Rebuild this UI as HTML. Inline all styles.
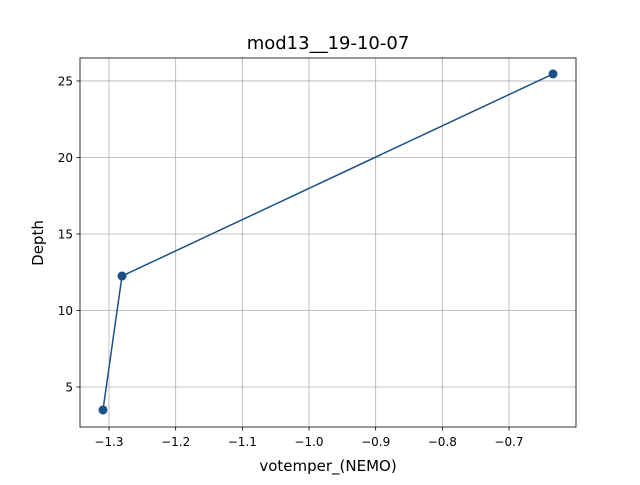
<!DOCTYPE html>
<html><head><meta charset="utf-8"><style>
html,body{margin:0;padding:0;background:#fff}
svg text{font-family:"DejaVu Sans","Liberation Sans",sans-serif;fill:#000}
</style></head><body>
<svg id="chart" width="640" height="480" xmlns="http://www.w3.org/2000/svg">
<rect width="640" height="480" fill="#fff"/>
<text x="328" y="49" font-size="18" text-anchor="middle">mod13__19-10-07</text>
<text x="328" y="471" font-size="15" text-anchor="middle">votemper_(NEMO)</text>
<text transform="translate(43,243) rotate(-90)" font-size="15" text-anchor="middle">Depth</text>
<g id="grid"></g><g id="ticks"></g><g id="series"></g>
<rect x="80" y="58" width="496" height="369" fill="none" stroke="#000" stroke-width="0.8"/>
</svg>
<script>
const xTicks=[-1.3,-1.2,-1.1,-1.0,-0.9,-0.8,-0.7];
const xTickLabels=["−1.3","−1.2","−1.1","−1.0","−0.9","−0.8","−0.7"];
const yTicks=[5,10,15,20,25];
const yTickLabels=["5","10","15","20","25"];
const tempValues=[-1.309,-1.2805,-0.634];
const depthValues=[3.5,12.25,25.46];

const L=80,R=576,T=58,B=427;
const xMin=-1.3435,xMax=-0.5995,yMin=2.386,yMax=26.5;
const sx=v=>L+(v-xMin)/(xMax-xMin)*(R-L);
const sy=v=>B-(v-yMin)/(yMax-yMin)*(B-T);
const NS="http://www.w3.org/2000/svg";
function mk(tag,attrs,parent){const e=document.createElementNS(NS,tag);for(const k in attrs)e.setAttribute(k,attrs[k]);parent.appendChild(e);return e;}
const grid=document.getElementById('grid'),ticks=document.getElementById('ticks'),series=document.getElementById('series');
xTicks.forEach((v,i)=>{const x=sx(v);
 let g=mk('line',{x1:x,x2:x,y1:T,y2:B,stroke:'#b0b0b0','stroke-width':0.8},grid);
 
 
 let t=mk('line',{x1:x,x2:x,y1:B,y2:B+3.5,stroke:'#000','stroke-width':0.8},ticks);
 
 
 let l=mk('text',{x:x,y:B+19,'font-size':12,'text-anchor':'middle'},ticks);l.textContent=xTickLabels[i];
 
 
});
yTicks.forEach((v,i)=>{const y=sy(v);
 let g=mk('line',{x1:L,x2:R,y1:y,y2:y,stroke:'#b0b0b0','stroke-width':0.8},grid);
 
 
 let t=mk('line',{x1:L-3.5,x2:L,y1:y,y2:y,stroke:'#000','stroke-width':0.8},ticks);
 
 
 let l=mk('text',{x:L-7,y:y+4.5,'font-size':12,'text-anchor':'end'},ticks);l.textContent=yTickLabels[i];
 
 
});
const pts=tempValues.map((v,i)=>sx(v)+','+sy(depthValues[i])).join(' ');
let pl=mk('polyline',{points:pts,fill:'none',stroke:'#1a5085','stroke-width':1.5},series);


tempValues.forEach((v,i)=>{
 let c=mk('circle',{cx:sx(v),cy:sy(depthValues[i]),r:4.5,fill:'#1a5085'},series);
 
 
});
</script>
</body></html>
